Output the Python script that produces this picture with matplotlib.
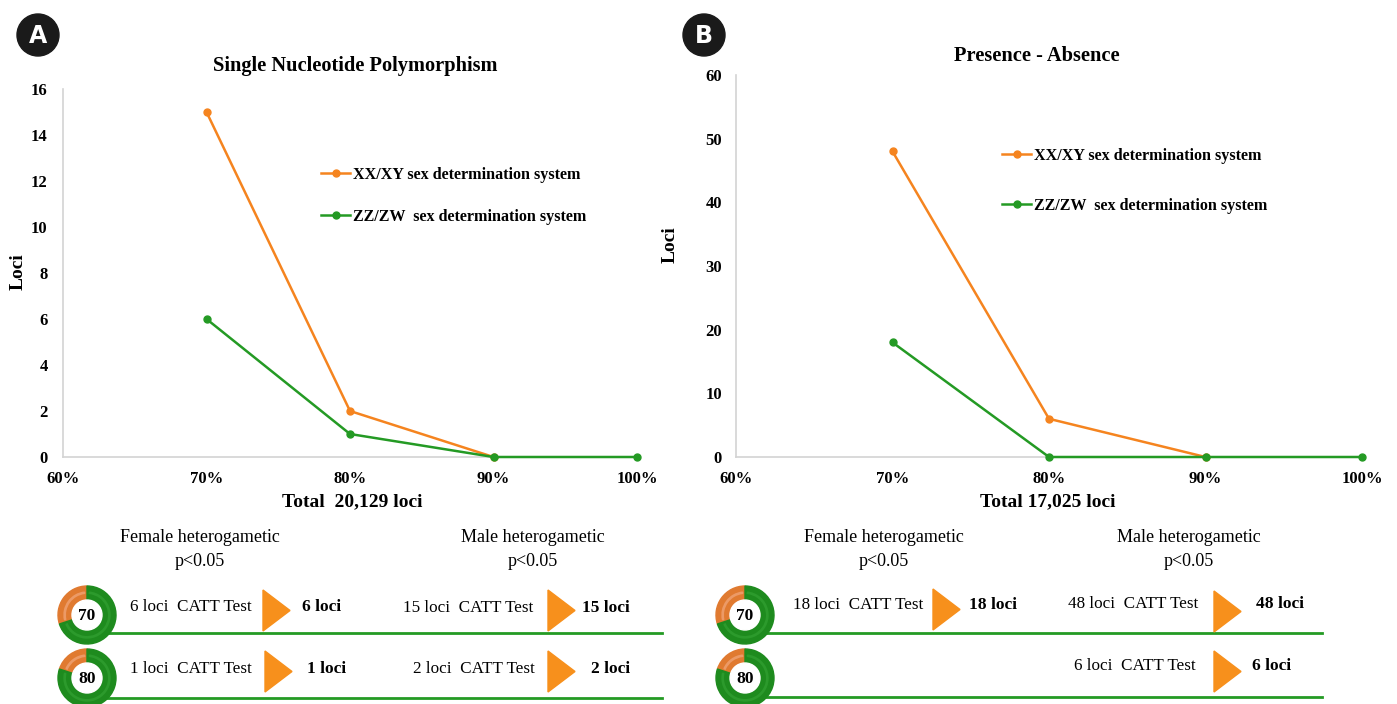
import matplotlib
matplotlib.use("Agg")
import matplotlib.pyplot as plt
from matplotlib.patches import Wedge, Circle, Polygon

# ---------------- data ----------------
x_ticks = [60, 70, 80, 90, 100]
x_tick_labels = ["60%", "70%", "80%", "90%", "100%"]

snp_x_xxxy = [70, 80, 90]
snp_xxxy = [15, 2, 0]
snp_x_zzzw = [70, 80, 90, 100]
snp_zzzw = [6, 1, 0, 0]

pa_x_xxxy = [70, 80, 90]
pa_xxxy = [48, 6, 0]
pa_x_zzzw = [70, 80, 90, 100]
pa_zzzw = [18, 0, 0, 0]

snp_yticks = [0, 2, 4, 6, 8, 10, 12, 14, 16]
pa_yticks = [0, 10, 20, 30, 40, 50, 60]

title_a = "Single Nucleotide Polymorphism"
title_b = "Presence - Absence"
total_a = "Total  20,129 loci"
total_b = "Total 17,025 loci"
legend_xxxy = "XX/XY sex determination system"
legend_zzzw = "ZZ/ZW  sex determination system"

thresholds = [70, 80]
catt_female_a = [6, 1]
catt_male_a = [15, 2]
catt_female_b = [18, None]
catt_male_b = [48, 6]

# ---------------- style ----------------
ORANGE = "#F5841F"
GREEN = "#249A24"
D_GREEN = "#1E8B1E"
D_ORANGE = "#E07A30"
TRI = "#F7901C"
SERIF = "Liberation Serif"
plt.rcParams["font.family"] = [SERIF, "DejaVu Serif"]

W, H = 1397, 704
fig = plt.figure(figsize=(W / 100, H / 100), dpi=100)


def fx(px):
    return px / W


def fy(py):
    return 1 - py / H


def make_chart(left, right, y0, ytop, xs1, ys1, xs2, ys2, yticks, title,
               title_xy, total, total_xy, ylab_xy, leg_xy, leg_space, ypad):
    ax = fig.add_axes([fx(left), fy(y0), fx(right - left), (y0 - ytop) / H])
    ax.plot(xs1, ys1, color=ORANGE, lw=1.8, marker="o", ms=5, zorder=3,
            label=legend_xxxy, clip_on=False)
    ax.plot(xs2, ys2, color=GREEN, lw=1.8, marker="o", ms=5, zorder=4,
            label=legend_zzzw, clip_on=False)
    ax.set_xlim(60, 100)
    ax.set_ylim(yticks[0], yticks[-1])
    ax.set_xticks(x_ticks)
    ax.set_xticklabels(x_tick_labels, fontweight="bold", fontsize=12)
    ax.set_yticks(yticks)
    ax.set_yticklabels([str(v) for v in yticks], fontweight="bold", fontsize=12)
    ax.tick_params(axis="x", length=0, pad=10)
    ax.tick_params(axis="y", length=0, pad=ypad)
    for s in ["top", "right"]:
        ax.spines[s].set_visible(False)
    for s in ["left", "bottom"]:
        ax.spines[s].set_color("#D3D3D3")
        ax.spines[s].set_linewidth(1.2)
    ax.patch.set_alpha(0)
    fig.text(fx(title_xy[0]), fy(title_xy[1]), title, ha="center", va="center",
             fontsize=14.7, fontweight="bold")
    fig.text(fx(total_xy[0]), fy(total_xy[1]), total, ha="center", va="center",
             fontsize=14, fontweight="bold")
    fig.text(fx(ylab_xy[0]), fy(ylab_xy[1]), "Loci", ha="center", va="center",
             rotation=90, fontsize=14, fontweight="bold")
    ax.legend(loc="upper left", bbox_to_anchor=(fx(leg_xy[0]), fy(leg_xy[1])),
              bbox_transform=fig.transFigure, frameon=False, borderpad=0,
              borderaxespad=0, handlelength=1.8, handletextpad=0.2,
              labelspacing=leg_space, numpoints=1,
              prop={"family": SERIF, "weight": "bold", "size": 11.6})
    return ax


make_chart(63, 637, 457, 89, snp_x_xxxy, snp_xxxy, snp_x_zzzw, snp_zzzw,
           snp_yticks, title_a, (355, 66), total_a, (352, 502), (18, 272),
           (321, 167), 1.6, 11)
make_chart(736, 1362, 457, 75, pa_x_xxxy, pa_xxxy, pa_x_zzzw, pa_zzzw,
           pa_yticks, title_b, (1037, 56), total_b, (1048, 502), (670, 245),
           (1002, 148), 2.1, 10)

# overlay in pixel coordinates (y up)
ov = fig.add_axes([0, 0, 1, 1])
ov.set_xlim(0, W)
ov.set_ylim(0, H)
ov.axis("off")
ov.patch.set_alpha(0)


def Y(py):
    return H - py


# panel letters
for cx, letter in [(38, "A"), (704, "B")]:
    ov.add_patch(Circle((cx, Y(35)), 21, color="#1A1A1A", zorder=5))
    ov.text(cx, Y(36), letter, ha="center", va="center", color="white",
            fontsize=17, fontweight="bold", family="DejaVu Sans", zorder=6)

# headers
for cx in (200, 884):
    ov.text(cx, Y(538), "Female heterogametic", ha="center", va="center",
            fontsize=13)
    ov.text(cx, Y(561), "p<0.05", ha="center", va="center", fontsize=13)
for cx in (533, 1189):
    ov.text(cx, Y(538), "Male heterogametic", ha="center", va="center",
            fontsize=13)
    ov.text(cx, Y(561), "p<0.05", ha="center", va="center", fontsize=13)


def donut(cx, cy, thr):
    frac = (100 - thr) / 100.0
    a_or = 360 * frac
    R, r = 29, 15
    ov.add_patch(Wedge((cx, Y(cy)), R, 90, 90 + a_or, width=R - r,
                       color=D_ORANGE, zorder=4))
    ov.add_patch(Wedge((cx, Y(cy)), R, 90 + a_or, 450, width=R - r,
                       color=D_GREEN, zorder=4))
    ov.add_patch(Wedge((cx, Y(cy)), 23, 96, 84 + a_or, width=1.3,
                       color="#EC9A66", zorder=5))
    ov.add_patch(Wedge((cx, Y(cy)), 23, 96 + a_or, 444, width=1.3,
                       color="#2C9A2C", zorder=5))
    ov.add_patch(Circle((cx, Y(cy)), r, color="white", zorder=5))
    ov.text(cx, Y(cy + 1), str(thr), ha="center", va="center", fontsize=12.5,
            fontweight="bold", zorder=6)


def tri(x0, ytop, w=27, h=41):
    ov.add_patch(Polygon([(x0, Y(ytop)), (x0, Y(ytop + h)),
                          (x0 + w, Y(ytop + h / 2))], closed=True,
                         color=TRI, zorder=4))


def catt(xt, yt, xtri, ytri, xb, n):
    ov.text(xt, Y(yt), f"{n} loci  CATT Test", ha="left", va="center",
            fontsize=12.3)
    tri(xtri, ytri)
    ov.text(xb, Y(yt), f"{n} loci", ha="left", va="center", fontsize=12.5,
            fontweight="bold")


row_y = [615, 678]
line_y = [633, 698]

# panel A rows
layout_a = [
    dict(f=(130, 607, 263, 590, 302), m=(403, 608, 548, 590, 582)),
    dict(f=(130, 669, 265, 651, 307), m=(413, 669, 548, 651, 591)),
]
for i, thr in enumerate(thresholds):
    ov.plot([95, 662], [Y(line_y[i])] * 2, color=GREEN, lw=2, zorder=3)
    donut(87, row_y[i], thr)
    L = layout_a[i]
    if catt_female_a[i] is not None:
        catt(*L["f"], catt_female_a[i])
    if catt_male_a[i] is not None:
        catt(*L["m"], catt_male_a[i])

# panel B rows
layout_b = [
    dict(f=(793, 605, 933, 589, 969), m=(1068, 604, 1214, 591, 1256)),
    dict(f=(793, 666, 933, 651, 969), m=(1074, 666, 1214, 651, 1252)),
]
for i, thr in enumerate(thresholds):
    ov.plot([755, 1322], [Y(line_y[i] - i)] * 2, color=GREEN, lw=2, zorder=3)
    donut(745, row_y[i], thr)
    L = layout_b[i]
    if catt_female_b[i] is not None:
        catt(*L["f"], catt_female_b[i])
    if catt_male_b[i] is not None:
        catt(*L["m"], catt_male_b[i])

fig.savefig("out.png", dpi=100)
